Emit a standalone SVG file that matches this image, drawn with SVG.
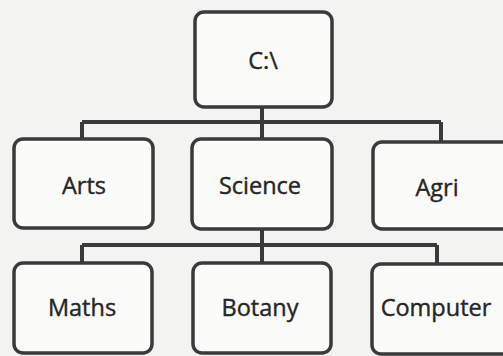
<svg xmlns="http://www.w3.org/2000/svg" width="503" height="356" viewBox="0 0 503 356">
<style>
.box{fill:#fbfbfa;stroke:#3a3a3a;stroke-width:3.5}
.lbl{font-family:"Open Sans","Liberation Sans",sans-serif;font-size:23.5px;fill:#262626;stroke:#262626;stroke-width:0.4;text-anchor:middle}
.con{fill:none;stroke:#3a3a3a;stroke-width:4}
</style>
<rect width="503" height="356" fill="#f3f3f1"/>
<g id="connectors">
<path class="con" d="M262 107V122M82 122H441M82 122V139M262 122V139M441 122V142"/>
<path class="con" d="M262 229V245M82 245H437M82 245V263M262 245V263M437 245V263"/>
</g>
<g id="root"><rect class="box" x="195" y="12" width="137" height="95" rx="9"/><text class="lbl" x="263" y="69">C:\</text></g>
<g id="arts"><rect class="box" x="14" y="139" width="139" height="89" rx="9"/><text class="lbl" x="84" y="194">Arts</text></g>
<g id="science"><rect class="box" x="192" y="139" width="140" height="90" rx="9"/><text class="lbl" x="260" y="194">Science</text></g>
<g id="agri"><rect class="box" x="373" y="142" width="140" height="87" rx="9"/><text class="lbl" x="437" y="196">Agri</text></g>
<g id="maths"><rect class="box" x="14" y="263" width="138" height="90" rx="9"/><text class="lbl" x="82" y="316">Maths</text></g>
<g id="botany"><rect class="box" x="193" y="263" width="138" height="90" rx="9"/><text class="lbl" x="260" y="316">Botany</text></g>
<g id="computer"><rect class="box" x="372" y="264" width="140" height="90" rx="9"/><text class="lbl" x="436" y="316">Computer</text></g>
</svg>
